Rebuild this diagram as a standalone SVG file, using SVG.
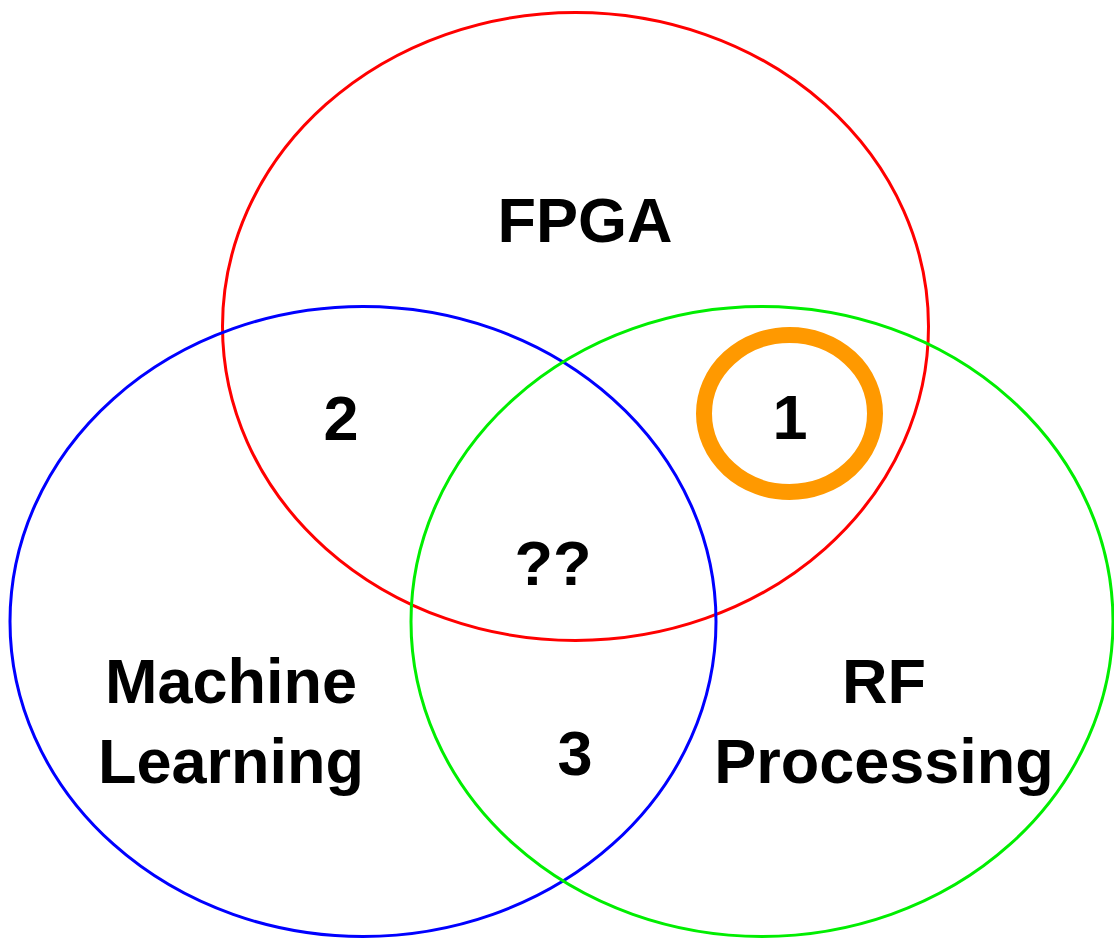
<svg xmlns="http://www.w3.org/2000/svg" width="1114" height="939" viewBox="0 0 1114 939">
<style>
.set{fill:none;stroke-width:3}
.lbl{font-family:"Liberation Sans",Arial,sans-serif;font-weight:bold;font-size:63px;fill:#000;text-anchor:middle}
</style>
<rect width="1114" height="939" fill="#fff"/>
<g id="fpga"><ellipse class="set" cx="575.5" cy="326.5" rx="353" ry="314" stroke="#ff0000"/><text class="lbl" x="585" y="242">FPGA</text></g>
<g id="ml"><ellipse class="set" cx="363" cy="621.5" rx="353" ry="315" stroke="#0000ff"/><text class="lbl" x="231" y="703">Machine</text><text class="lbl" x="231" y="783">Learning</text></g>
<g id="rf"><ellipse class="set" cx="762" cy="621.5" rx="351" ry="315" stroke="#00ee00"/><text class="lbl" x="884" y="703">RF</text><text class="lbl" x="884" y="783">Processing</text></g>
<g id="region2"><text class="lbl" x="341" y="440">2</text></g>
<g id="region1"><ellipse cx="789.5" cy="413.5" rx="85.5" ry="78.5" fill="none" stroke="#ff9900" stroke-width="16"/><text class="lbl" x="790" y="439">1</text></g>
<g id="center"><text class="lbl" x="553" y="585">??</text></g>
<g id="region3"><text class="lbl" x="575" y="775">3</text></g>
<g id="connectors"/>
</svg>
